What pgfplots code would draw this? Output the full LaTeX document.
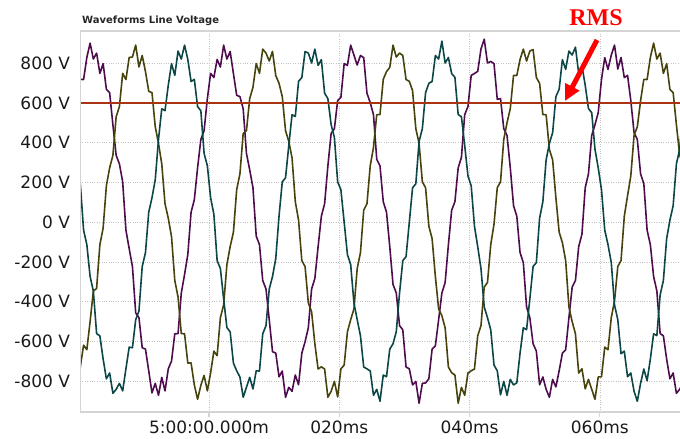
\documentclass[border=0pt]{standalone}
\usepackage{fontspec}
\setmainfont{DejaVu Sans}
\newfontfamily\rmsfont{Liberation Serif}
\usepackage{pgfplots}
\pgfplotsset{compat=1.18}
\usepackage{pgfplotstable}
\usetikzlibrary{arrows.meta}
\definecolor{phA}{RGB}{78,12,78}
\definecolor{phB}{RGB}{70,68,12}
\definecolor{phC}{RGB}{12,70,70}
\definecolor{rmsline}{RGB}{170,52,18}
\definecolor{gridgray}{RGB}{195,195,195}
\definecolor{framegray}{RGB}{212,212,212}

% line voltages, time in ms
\pgfplotstableread{
t p o q
-20.25 611 -858 243
-19.75 718 -727 193
-19.25 717 -618 -40
-18.75 828 -641 -113
-18.25 900 -500 -273
-17.75 820 -346 -346
-17.25 850 -333 -560
-16.75 748 -113 -571
-16.25 797 -30 -688
-15.75 668 183 -787
-15.25 651 273 -758
-14.75 490 336 -860
-14.25 336 530 -840
-13.75 293 581 -810
-13.25 203 748 -848
-12.75 -40 717 -737
-12.25 -133 828 -628
-11.75 -223 830 -631
-11.25 -456 890 -490
-10.75 -480 780 -446
-10.25 -631 838 -223
-9.75 -638 757 -153
-9.25 -747 658 50
-8.75 -858 651 123
-8.25 -810 480 213
-7.75 -870 396 416
-7.25 -780 293 570
-6.75 -848 93 561
-6.25 -737 20 688
-5.75 -698 -73 797
-5.25 -561 -293 738
-4.75 -560 -376 860
-4.25 -356 -560 820
-3.75 -263 -561 890
-3.25 -163 -708 818
-2.75 50 -707 707
-2.25 113 -818 718
-1.75 273 -890 581
-1.25 416 -820 560
-0.75 460 -770 346
-0.25 621 -848 283
0.25 748 -757 123
0.75 727 -648 40
1.25 818 -671 -193
1.75 780 -480 -233
2.25 890 -416 -386
2.75 820 -213 -530
3.25 858 -123 -551
3.75 747 -50 -708
4.25 638 163 -747
4.75 631 243 -778
5.25 570 446 -880
5.75 346 460 -830
6.25 263 621 -780
6.75 173 678 -838
7.25 -70 797 -747
7.75 -113 748 -748
8.25 -293 870 -561
8.75 -336 850 -520
9.25 -490 810 -336
9.75 -651 858 -273
10.25 -658 737 -183
10.75 -777 698 30
11.25 -748 631 203
11.75 -880 460 223
12.25 -830 406 386
12.75 -850 323 540
13.25 -768 103 531
13.75 -817 10 708
14.25 -658 -193 727
14.75 -601 -223 858
15.25 -530 -406 850
15.75 -336 -450 800
16.25 -283 -611 870
16.75 -123 -738 788
17.25 30 -727 817
17.75 93 -738 648
18.25 283 -880 621
18.75 446 -850 490
19.25 470 -800 426
19.75 611 -878 203
20.25 628 -737 163
20.75 797 -718 0
21.25 788 -551 -163
21.75 890 -490 -213
22.25 840 -436 -406
22.75 790 -233 -490
23.25 838 -153 -571
23.75 827 60 -728
24.25 648 93 -737
24.75 601 283 -748
25.25 540 376 -870
25.75 316 540 -840
26.25 283 541 -900
26.75 103 718 -768
27.25 50 757 -777
27.75 -123 778 -638
28.25 -313 890 -611
28.75 -356 830 -550
29.25 -520 850 -356
29.75 -541 838 -193
30.25 -728 717 -173
30.75 -737 708 0
31.25 -818 661 173
31.75 -800 470 193
32.25 -910 396 406
32.75 -810 203 470
33.25 -808 173 651
33.75 -787 -20 698
34.25 -638 -83 707
34.75 -621 -273 838
35.25 -490 -436 820
35.75 -356 -470 910
36.25 -303 -531 800
36.75 -113 -728 828
37.25 60 -757 747
37.75 103 -768 728
38.25 273 -910 541
38.75 326 -830 530
39.25 540 -870 386
39.75 581 -758 233
40.25 738 -747 183
40.75 747 -738 -20
41.25 758 -571 -123
41.75 870 -520 -233
42.25 920 -326 -426
42.75 800 -303 -480
43.25 808 -113 -541
43.75 797 -10 -718
44.25 618 173 -747
44.75 621 203 -868
45.25 470 416 -800
45.75 436 500 -870
46.25 273 571 -790
46.75 83 738 -818
47.25 30 737 -807
47.75 -153 818 -658
48.25 -203 870 -531
48.75 -426 810 -540
49.25 -480 860 -386
49.75 -611 868 -223
50.25 -648 727 -203
50.75 -817 698 20
51.25 -778 541 103
51.75 -840 540 313
52.25 -880 366 396
52.75 -790 313 450
53.25 -828 123 631
53.75 -747 -50 668
54.25 -658 -103 817
54.75 -641 -193 768
55.25 -480 -426 860
55.75 -326 -500 840
56.25 -293 -561 880
56.75 -123 -758 748
57.25 -60 -737 787
57.75 173 -838 688
58.25 243 -790 571
58.75 436 -840 550
59.25 490 -890 366
59.75 551 -778 273
60.25 718 -777 163
60.75 827 -628 -40
61.25 768 -641 -113
61.75 840 -480 -203
62.25 890 -396 -416
62.75 770 -223 -490
63.25 828 -193 -661
63.75 727 30 -648
64.25 738 133 -777
64.75 611 233 -758
65.25 450 436 -850
65.75 416 480 -900
66.25 243 611 -810
66.75 193 718 -738
67.25 -40 717 -797
67.75 -113 828 -688
68.25 -273 900 -561
68.75 -346 820 -570
69.25 -560 850 -366
69.75 -571 748 -293
70.25 -688 797 -83
70.75 -787 668 10
71.25 -758 651 83
71.75 -860 490 293
72.25 -840 336 366
72.75 -810 293 560
}\wave

\begin{document}
\begin{tikzpicture}
\begin{axis}[
  scale only axis, width=600bp, height=381bp,
  xmin=-19.8, xmax=72.3, ymin=-954, ymax=961,
  xtick={0,20,40,60},
  xticklabels={5:00:00.000m,020ms,040ms,060ms},
  ytick={-800,-600,...,800},
  yticklabels={-800 V,-600 V,-400 V,-200 V,0 V,200 V,400 V,600 V,800 V},
  grid=major, grid style={gridgray, dotted, line width=0.7bp},
  axis line style={draw=none},
  tick align=outside, major tick length=5bp,
  xtick pos=bottom, ytick pos=left,
  x tick style={framegray, line width=1.2bp},
  y tick style={draw=none},
  ticklabel style={font=\fontsize{17bp}{20bp}\selectfont, text=black!90},
  yticklabel style={xshift=-1.5bp},
]
\addplot[phA, line width=1.6bp, line join=round] table[x=t, y=p] {\wave};
\addplot[phB, line width=1.6bp, line join=round] table[x=t, y=o] {\wave};
\addplot[phC, line width=1.6bp, line join=round] table[x=t, y=q] {\wave};
\addplot[rmsline, line width=2.2bp] coordinates {(-25,600) (80,600)};
\draw[framegray, line width=1.5bp] (rel axis cs:1,1) -- (rel axis cs:0,1)
  -- (rel axis cs:0,0) -- (rel axis cs:1,0);
\end{axis}
\node[anchor=west, inner sep=0, font=\bfseries\fontsize{10bp}{12bp}\selectfont, text=black!85]
  at (2bp,391bp) {Waveforms Line Voltage};
\node[inner sep=0, font=\rmsfont\bfseries\fontsize{24bp}{28bp}\selectfont, text=red]
  at (516bp,394.5bp) {RMS};
\draw[red, line width=5bp, -{Triangle[length=16bp, width=15bp]}]
  (517bp,372bp) -- (485bp,311bp);
\pgfresetboundingbox
\useasboundingbox (-80bp,-27bp) rectangle (600bp,412bp);
\end{tikzpicture}
\end{document}
